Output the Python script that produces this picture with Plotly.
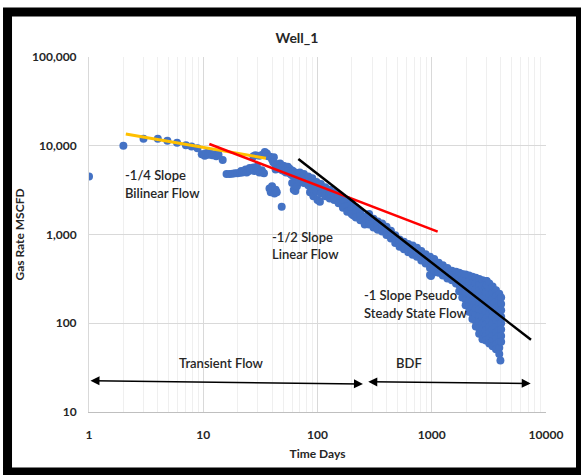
import math
import plotly.graph_objects as go

# ---------------- data ----------------
early_days = [1, 2, 3, 4, 4.85, 5.9, 7.05, 7.9, 8.9, 9.7, 10, 10.3, 10.7, 11.1, 11.5, 12, 12.5, 13, 13.6, 14.8]
early_rate = [4500, 10000, 12000, 12000, 11400, 10800, 10100, 9800, 9400, 8000, 8000, 7700, 8300, 7900, 8200, 7800, 8000, 7600, 7900, 6900]

streak_days = [16, 17, 18, 19, 20, 21, 21.5, 22, 23, 23.5, 24, 25, 25.5, 26, 27, 27.5, 28, 29, 29.5, 30, 31, 32, 32.5, 33, 34]
streak_rate = [4800, 4800, 4850, 4900, 4900, 4950, 5200, 5000, 5100, 5400, 5000, 5200, 5600, 5300, 5400, 5700, 5200, 5500, 5800, 5300, 5000, 5100, 5300, 5000, 4900]

upper_days = [27.5, 28.6, 31, 33, 34.6, 35.5, 36, 37, 38.5, 40, 41.5]
upper_rate = [7600, 7800, 7700, 7900, 8500, 8000, 8200, 7600, 7500, 7000, 7400]

plateau_days = [41, 43, 45, 47, 49, 51, 53, 55, 57, 59, 61, 63, 65, 67, 69,
                43, 45, 47, 49, 51, 53, 55, 57, 59, 61, 63, 65, 67, 69]
plateau_rate = [6500, 6000, 6200, 6300, 6000, 5900, 5600, 5800, 5500, 5300, 5200, 5000, 4900, 4800, 4600,
                5400, 5500, 5600, 5300, 5200, 5000, 5100, 4900, 4700, 4600, 4500, 4400, 4300, 4200]

outlier_days = [38, 39, 40, 41, 42, 43, 44, 48.6, 60, 62, 64, 66, 86, 92, 98, 100, 105, 205, 215, 985, 1030]
outlier_rate = [3300, 3000, 3500, 3100, 2900, 3200, 3000, 2060, 3800, 3200, 3100, 3500, 3000, 2700, 3100, 2450, 2340, 1650, 1600, 340, 370]

linear_days = [70, 70, 70, 76, 76, 76, 83, 83, 83, 90, 90, 90, 98, 98, 98,
               107, 107, 107, 117, 117, 117, 128, 128, 128, 140, 140, 140,
               153, 153, 153, 167, 167, 167, 182, 182, 182, 199, 199, 199,
               217, 217, 217, 237, 237, 237, 259, 259, 259, 283, 283, 283,
               309, 309, 309, 337, 337, 337, 368, 368, 368, 402, 402, 402,
               439, 439, 439, 479, 479, 479, 523, 523, 523, 571, 571, 571,
               623, 623, 623, 680, 680, 680, 742, 742, 742, 810, 810, 810,
               884, 884, 884, 965, 965, 965, 965, 1050, 1050, 1050,
               1150, 1150, 1150, 1250, 1250, 1250, 1370, 1370, 1370,
               1500, 1500, 1500, 1630, 1630, 1630, 1740, 1740, 1740, 1740]
linear_rate = [5000, 4400, 3900, 4800, 4300, 3800, 4500, 4000, 3600, 4300, 3800, 3300, 3900, 3500, 3050,
               3700, 3300, 2900, 3400, 3050, 2700, 3200, 2850, 2550, 3000, 2700, 2450,
               2800, 2500, 2250, 2600, 2300, 2000, 2450, 2100, 1800, 2300, 1950, 1700,
               2000, 1750, 1550, 1800, 1600, 1450, 1600, 1450, 1300, 1700, 1450, 1300,
               1500, 1350, 1200, 1400, 1270, 1130, 1330, 1200, 1080, 1220, 1100, 990,
               1100, 1000, 900, 980, 890, 800, 880, 800, 730, 830, 750, 680,
               780, 700, 630, 750, 660, 590, 710, 630, 560, 650, 580, 510,
               600, 530, 470, 560, 490, 420, 350, 530, 460, 395,
               480, 420, 370, 450, 395, 345, 420, 370, 320,
               390, 350, 305, 380, 330, 280, 370, 320, 270, 230]

bdf_days = [1850, 1850, 1850, 1850, 1850,
            1980, 1980, 1980, 1980, 1980, 1980,
            2120, 2120, 2120, 2120, 2120, 2120, 2120,
            2270, 2270, 2270, 2270, 2270, 2270, 2270, 2270,
            2430, 2430, 2430, 2430, 2430, 2430, 2430, 2430, 2430,
            2600, 2600, 2600, 2600, 2600, 2600, 2600, 2600, 2600, 2600,
            2780, 2780, 2780, 2780, 2780, 2780, 2780, 2780, 2780, 2780, 2780,
            2980, 2980, 2980, 2980, 2980, 2980, 2980, 2980, 2980, 2980, 2980,
            3030, 3030,
            3190, 3190, 3190, 3190, 3190, 3190, 3190, 3190, 3190, 3190, 3190,
            3410, 3410, 3410, 3410, 3410, 3410, 3410, 3410, 3410, 3410, 3410,
            3650, 3650, 3650, 3650, 3650, 3650, 3650, 3650, 3650, 3650, 3650,
            3900, 3900, 3900, 3900, 3900, 3900, 3900, 3900, 3900, 3900, 3900,
            4050, 4050, 4050, 4050, 4050, 4050, 4050, 4050,
            3990]
bdf_rate = [360, 310, 265, 225, 195,
            355, 300, 255, 220, 185, 160,
            345, 295, 250, 215, 180, 155, 135,
            335, 285, 245, 210, 178, 150, 128, 112,
            325, 280, 240, 205, 172, 146, 124, 106, 92,
            315, 270, 232, 198, 168, 142, 120, 102, 88, 76,
            305, 262, 225, 192, 163, 138, 117, 99, 85, 73, 66,
            300, 255, 220, 187, 158, 134, 114, 97, 83, 72, 64,
            300, 270,
            280, 240, 205, 175, 148, 126, 107, 91, 78, 67, 59,
            260, 222, 190, 162, 138, 118, 100, 85, 73, 63, 55,
            235, 202, 173, 148, 126, 107, 91, 78, 67, 58, 51,
            215, 184, 158, 135, 115, 98, 84, 72, 62, 53, 45,
            195, 165, 140, 118, 100, 85, 72, 62,
            38]

# slope lines (endpoints)
bilinear_days = [2.1, 35.4]
bilinear_rate = [13560, 7220]
linear_line_days = [11.3, 1127]
linear_line_rate = [10470, 1076]
pss_days = [68, 7390]
pss_rate = [7090, 65]

x_tick_vals = [1, 10, 100, 1000, 10000]
y_tick_vals = [10, 100, 1000, 10000, 100000]

# ---------------- figure ----------------
all_days = early_days + streak_days + upper_days + plateau_days + outlier_days + linear_days + bdf_days
all_rate = early_rate + streak_rate + upper_rate + plateau_rate + outlier_rate + linear_rate + bdf_rate

FONT = "Lato"
TXT = "#262626"

fig = go.Figure()
fig.add_trace(go.Scatter(x=all_days, y=all_rate, mode="markers",
                         marker=dict(color="#4472C4", size=8, line=dict(width=0)),
                         showlegend=False))
fig.add_trace(go.Scatter(x=bilinear_days, y=bilinear_rate, mode="lines",
                         line=dict(color="#FFC000", width=3), showlegend=False))
fig.add_trace(go.Scatter(x=linear_line_days, y=linear_line_rate, mode="lines",
                         line=dict(color="#FF0000", width=2.5), showlegend=False))
fig.add_trace(go.Scatter(x=pss_days, y=pss_rate, mode="lines",
                         line=dict(color="#000000", width=2.5), showlegend=False))

L = math.log10

annots = []
def label(text, xv, yv, anchor="left"):
    annots.append(dict(text=text, x=L(xv), y=L(yv), xref="x", yref="y", showarrow=False,
                       xanchor=anchor, yanchor="middle",
                       font=dict(family=FONT, size=13, color=TXT, weight=600)))

label("-1/4 Slope", 1.985, 4680)
label("Bilinear Flow", 1.985, 2940)
label("-1/2 Slope", 38.4, 944)
label("Linear Flow", 38.4, 603)
label("-1 Slope Pseudo", 243.8, 208)
label("Steady State Flow", 243.8, 129)
label("Transient Flow", 14.45, 35.4, "center")
label("BDF", 632, 35.4, "center")

for (x0, y0, x1, y1) in [(1, 22.5, 250, 20.7), (270, 21.9, 7350, 21.0)]:
    annots.append(dict(x=L(x1), y=L(y1), ax=L(x0), ay=L(y0), xref="x", yref="y",
                       axref="x", ayref="y", text="", showarrow=True,
                       arrowside="end+start", arrowhead=2, startarrowhead=2,
                       arrowsize=1.2, startarrowsize=1.2, arrowwidth=1.5,
                       arrowcolor="#000000", standoff=0, startstandoff=0))

fig.update_layout(
    width=581, height=475, autosize=False,
    margin=dict(l=89, r=35, t=57, b=63),
    paper_bgcolor="white", plot_bgcolor="white",
    font=dict(family=FONT, color=TXT),
    title=dict(text="<b>Well_1</b>", x=297 / 581, xref="container", xanchor="center",
               y=1 - 38 / 475, yref="container", yanchor="middle",
               font=dict(family=FONT, size=14, color=TXT)),
    annotations=annots,
    shapes=[dict(type="rect", xref="paper", yref="paper",
                 x0=-0.1783, x1=1.0755, y0=-0.169, y1=1.1268,
                 line=dict(color="black", width=9), fillcolor="rgba(0,0,0,0)")],
)

fig.update_xaxes(type="log", range=[0, 4], tickvals=x_tick_vals, ticktext=[str(v) for v in x_tick_vals],
                 showgrid=True, gridcolor="#D9D9D9", gridwidth=1,
                 minor=dict(showgrid=True, gridcolor="#EFEFEF", dtick="D1", ticks=""),
                 showline=True, linecolor="#BFBFBF", linewidth=1,
                 zeroline=False, ticks="", ticklabelstandoff=12,
                 tickfont=dict(family=FONT, size=12, color=TXT, weight="bold"),
                 title=dict(text="<b>Time Days</b>", standoff=8,
                            font=dict(family=FONT, size=12, color=TXT)))
fig.update_yaxes(type="log", range=[1, 5], tickvals=y_tick_vals,
                 ticktext=[f"{v:,}" for v in y_tick_vals],
                 showgrid=True, gridcolor="#D9D9D9", gridwidth=1,
                 showline=True, linecolor="#D9D9D9", linewidth=1,
                 zeroline=False, ticks="", ticklabelstandoff=9,
                 tickfont=dict(family=FONT, size=12, color=TXT, weight="bold"),
                 title=dict(text="<b>Gas Rate MSCFD</b>", standoff=4,
                            font=dict(family=FONT, size=12, color=TXT)))

fig.write_html("out.html", config={"displayModeBar": False},
               post_script="document.body.style.margin='0';document.body.style.padding='0';")
